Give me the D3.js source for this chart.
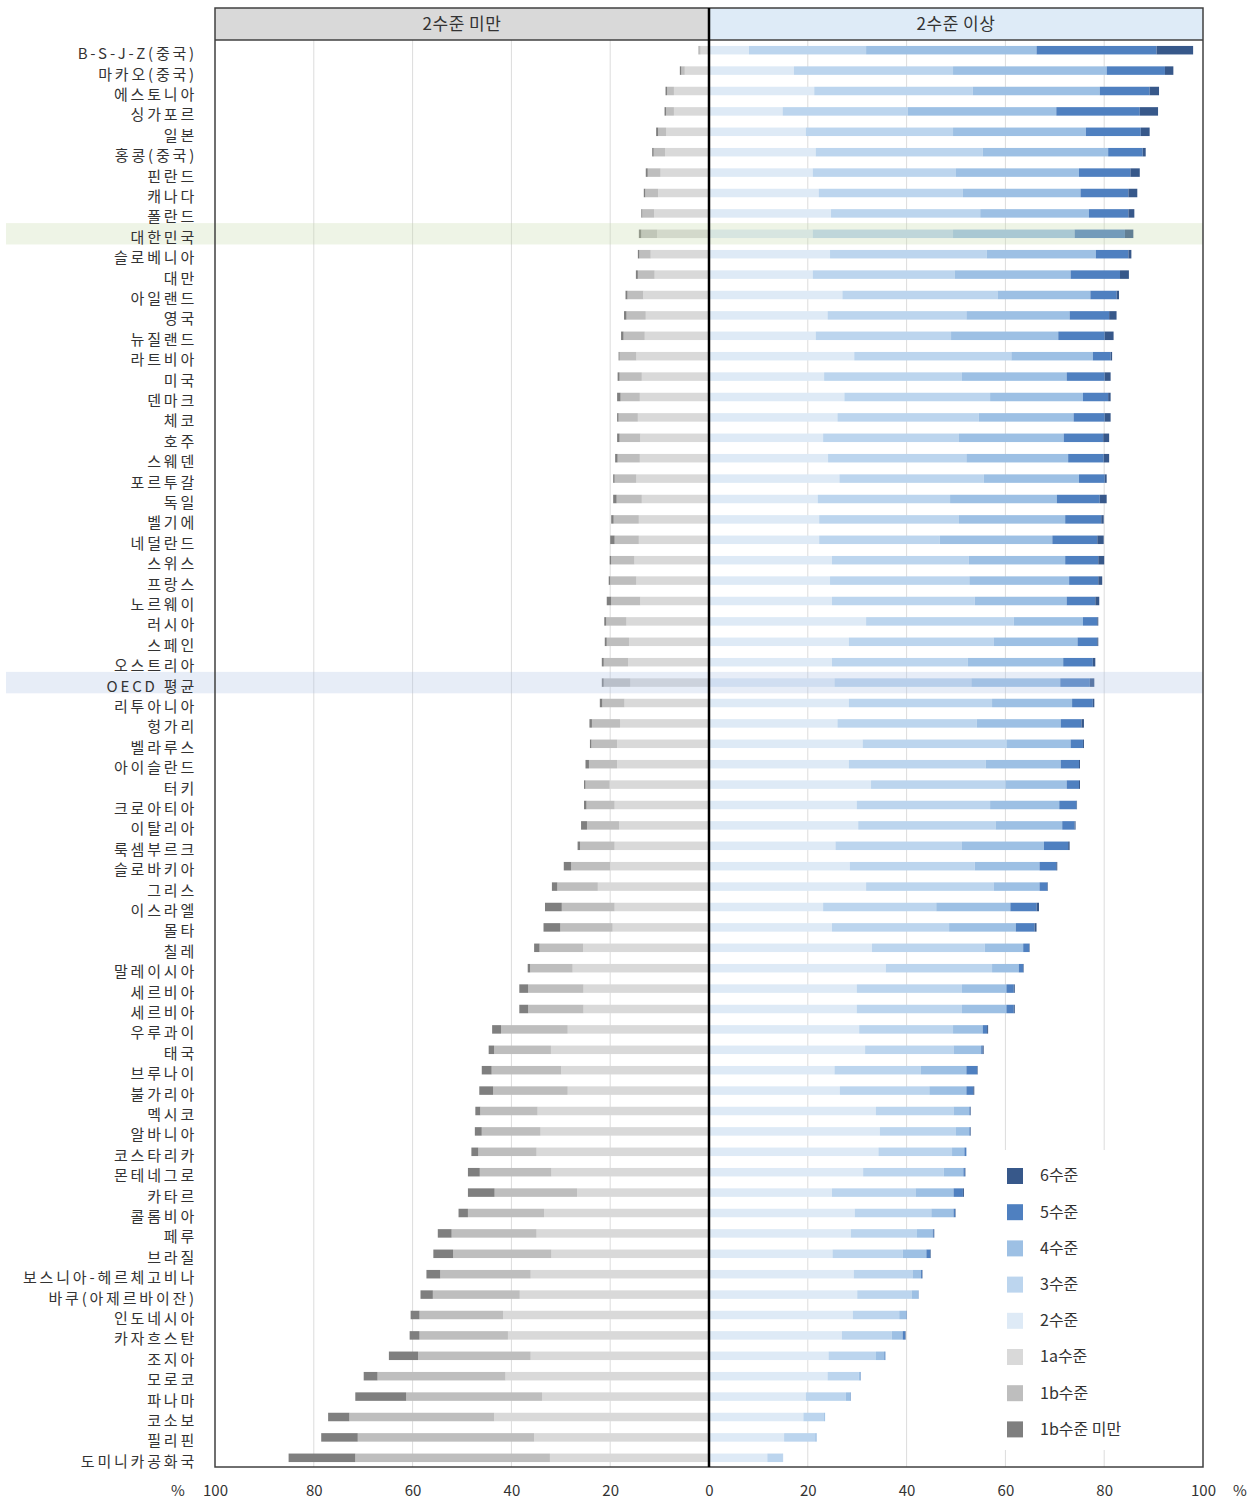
<!DOCTYPE html>
<html>
<head>
<meta charset="utf-8">
<script src="https://cdn.jsdelivr.net/npm/d3@7"></script>
<style>
  body { margin: 0; background: #fff; }
  svg text { font-family: "Noto Sans CJK KR", "Noto Sans", sans-serif; fill: #333; }
</style>
</head>
<body>
<div id="chart"></div>
<script>
// PISA proficiency shares (%)
const countries = ["B-S-J-Z(중국)","마카오(중국)","에스토니아","싱가포르","일본","홍콩(중국)","핀란드","캐나다","폴란드","대한민국",
  "슬로베니아","대만","아일랜드","영국","뉴질랜드","라트비아","미국","덴마크","체코","호주",
  "스웨덴","포르투갈","독일","벨기에","네덜란드","스위스","프랑스","노르웨이","러시아","스페인",
  "오스트리아","OECD 평균","리투아니아","헝가리","벨라루스","아이슬란드","터키","크로아티아","이탈리아","룩셈부르크",
  "슬로바키아","그리스","이스라엘","몰타","칠레","말레이시아","세르비아","세르비아 ","우루과이","태국",
  "브루나이","불가리아","멕시코","알바니아","코스타리카","몬테네그로","카타르","콜롬비아","페루","브라질",
  "보스니아-헤르체고비나","바쿠(아제르바이잔)","인도네시아","카자흐스탄","조지아","모로코","파나마","코소보","필리핀","도미니카공화국"];

const below1b = [0.1,0.3,0.3,0.3,0.4,0.3,0.4,0.3,0.2,0.5, 0.3,0.4,0.4,0.5,0.5,0.2,0.4,0.7,0.3,0.5,
  0.5,0.3,0.7,0.5,0.9,0.3,0.3,0.9,0.4,0.4, 0.4,0.4,0.5,0.5,0.3,0.7,0.3,0.5,1.2,0.5,
  1.5,1.1,3.4,3.4,1.1,0.5,1.8,1.8,1.8,1.1, 2.0,2.8,1.0,1.4,1.4,2.4,5.4,1.9,2.8,4.0,
  2.8,2.5,1.8,2.0,5.9,2.8,10.3,4.3,7.4,13.5];
const level1b = [0.3,0.7,1.4,1.6,1.6,2.3,2.6,2.6,2.4,3.2, 2.3,3.4,3.2,3.9,4.3,3.4,4.5,3.9,3.9,4.2,
  4.5,4.4,5.1,5.1,4.9,4.7,5.3,5.9,4.1,4.5, 4.9,5.4,4.5,5.7,5.2,5.7,4.9,5.7,6.5,7.0,
  7.9,8.2,10.7,10.6,8.8,8.6,11.2,11.2,13.5,11.5, 14.1,15.1,11.6,11.9,11.8,14.5,16.7,15.4,17.2,19.9,
  18.3,17.6,16.9,17.9,22.8,25.9,27.5,29.3,35.7,39.4];
const level1a = [1.7,4.9,7.1,7.1,8.7,8.9,9.8,10.3,11.1,10.5, 11.8,11.0,13.3,12.8,13.0,14.7,13.6,14.0,14.4,13.9,
  14.0,14.7,13.6,14.2,14.2,15.1,14.7,13.9,16.7,16.2, 16.4,15.9,17.1,18.0,18.6,18.6,20.1,19.1,18.2,19.1,
  20.0,22.5,19.1,19.5,25.5,27.6,25.4,25.4,28.6,32.0, 29.9,28.6,34.7,34.1,34.9,31.9,26.7,33.4,34.9,31.9,
  36.1,38.3,41.7,40.7,36.1,41.2,33.8,43.5,35.4,32.2];
const level2 = [8.1,17.2,21.3,14.9,19.6,21.6,21.0,22.2,24.7,21.0, 24.5,21.0,27.0,24.0,21.6,29.4,23.3,27.4,26.0,23.1,
  24.1,26.4,22.0,22.3,22.3,24.9,24.5,24.9,31.8,28.3, 24.9,25.4,28.3,26.0,31.1,28.3,32.8,29.9,30.2,25.6,
  28.5,31.8,23.1,24.9,33.0,35.8,29.9,29.9,30.4,31.6, 25.4,26.5,33.8,34.6,34.3,31.2,24.9,29.5,28.7,25.0,
  29.3,30.0,29.1,26.9,24.2,24.0,19.6,19.1,15.2,11.8];
const level3 = [23.7,32.2,32.1,25.3,29.8,33.8,29.0,29.2,30.2,28.4, 31.7,28.7,31.4,28.1,27.4,31.8,27.9,29.5,28.6,27.5,
  28.0,29.2,26.8,28.3,24.4,27.7,28.2,28.9,29.9,29.3, 27.5,27.7,29.0,28.2,29.1,27.7,27.2,27.0,27.8,25.6,
  25.3,25.8,22.9,23.7,22.8,21.5,21.3,21.3,19.0,17.9, 17.5,18.1,15.7,15.4,14.9,16.3,16.9,15.5,13.4,14.2,
  11.9,11.0,9.4,10.1,9.6,6.3,8.1,4.2,6.3,3.1];
const level4 = [34.5,31.1,25.7,30.1,26.9,25.4,24.9,23.8,22.0,24.6, 22.1,23.5,18.8,20.9,21.7,16.5,21.2,18.8,19.2,21.2,
  20.6,19.3,21.6,21.5,22.8,19.5,20.2,18.6,14.0,17.0, 19.3,18.0,16.2,17.0,13.0,15.2,12.4,14.0,13.5,16.6,
  13.1,9.3,15.0,13.5,7.8,5.4,9.0,9.0,6.0,5.6, 9.2,7.5,3.2,2.7,2.5,4.0,7.7,4.5,3.2,4.8,
  1.7,1.3,1.4,2.2,1.7,0.3,0.9,0.2,0.3,0.1];
const level5 = [24.3,11.8,10.1,16.9,11.1,7.0,10.4,9.7,8.0,10.2, 6.6,10.0,5.3,8.0,9.4,3.6,7.7,5.1,6.3,8.0,
  7.2,5.2,8.7,7.3,9.1,6.7,5.9,5.8,2.9,4.0, 6.0,6.0,4.2,4.2,2.5,3.7,2.5,3.5,2.5,4.9,
  3.4,1.6,5.3,3.8,1.2,0.9,1.5,1.5,0.9,0.3, 2.2,1.4,0.2,0.2,0.4,0.3,1.9,0.3,0.2,0.8,
  0.2,0.1,0.1,0.5,0.2,0.1,0.1,0.0,0.0,0.0];
const level6 = [7.4,1.7,1.9,3.7,1.8,0.6,1.9,1.8,1.2,1.7, 0.6,1.8,0.5,1.5,1.8,0.3,1.2,0.5,1.2,1.2,
  1.1,0.4,1.4,0.5,1.3,1.2,0.8,0.8,0.2,0.2, 0.5,0.9,0.3,0.5,0.2,0.2,0.2,0.1,0.2,0.3,
  0.2,0.1,0.5,0.4,0.1,0.1,0.2,0.2,0.2,0.2, 0.1,0.2,0.1,0.1,0.0,0.1,0.2,0.1,0.1,0.1,
  0.1,0.0,0.0,0.1,0.0,0.0,0.0,0.0,0.0,0.0];

const levelKeys = ["l1a","l1b","lb1b","l2","l3","l4","l5","l6"];
const levelNames = {l6:"6수준", l5:"5수준", l4:"4수준", l3:"3수준", l2:"2수준", l1a:"1a수준", l1b:"1b수준", lb1b:"1b수준 미만"};
const legendOrder = ["l6","l5","l4","l3","l2","l1a","l1b","lb1b"];
const headers = ["2수준 미만", "2수준 이상"];
const tickValues = [-100,-80,-60,-40,-20,0,20,40,60,80,100];
const highlights = {"대한민국": "#c6daac", "OECD 평균": "#afc3e4"};

const colors = {
  l6: "#37588a", l5: "#4f80c0", l4: "#9dc0e4", l3: "#bcd5ee", l2: "#deeaf6",
  l1a: "#d9d9d9", l1b: "#bebebe", lb1b: "#7f7f7f"
};

const width = 1257, height = 1501;
const plotL = 215, plotR = 1203, plotT = 8, headH = 32, plotB = 1467;

const svg = d3.select("#chart").append("svg")
  .attr("width", width).attr("height", height);

const x = d3.scaleLinear().domain([-100, 100]).range([plotL, plotR]);
const y = d3.scaleBand().domain(countries).range([plotT + headH, 1468]);
const barH = 8.5;

// one row object per country, below-level-2 shares as negatives
const rows = countries.map((c, i) => ({
  country: c,
  l1a: -level1a[i], l1b: -level1b[i], lb1b: -below1b[i],
  l2: level2[i], l3: level3[i], l4: level4[i], l5: level5[i], l6: level6[i]
}));

const series = d3.stack().keys(levelKeys).offset(d3.stackOffsetDiverging)(rows);

// header cells
svg.append("rect").attr("x", plotL).attr("y", plotT).attr("width", x(0) - plotL).attr("height", headH)
  .attr("fill", "#d9d9d9");
svg.append("rect").attr("x", x(0)).attr("y", plotT).attr("width", plotR - x(0)).attr("height", headH)
  .attr("fill", "#deebf7");
svg.selectAll(".head").data(headers).join("text")
  .attr("x", (d, i) => i == 0 ? (plotL + x(0)) / 2 : (x(0) + plotR) / 2)
  .attr("y", plotT + headH / 2 + 1)
  .attr("text-anchor", "middle").attr("dominant-baseline", "middle")
  .attr("font-size", 17).attr("letter-spacing", 0.5)
  .text(d => d);

// gridlines
svg.append("g").selectAll("line")
  .data(tickValues.filter(t => t != 0 && Math.abs(t) != 100))
  .join("line")
    .attr("x1", d => x(d)).attr("x2", d => x(d))
    .attr("y1", plotT + headH).attr("y2", plotB)
    .attr("stroke", "#dcdcdc").attr("stroke-width", 1);

// bars
svg.append("g").selectAll("g")
  .data(series)
  .join("g")
    .attr("fill", d => colors[d.key])
  .selectAll("rect")
  .data(d => d)
  .join("rect")
    .attr("x", d => x(Math.min(d[0], d[1])))
    .attr("width", d => Math.abs(x(d[1]) - x(d[0])))
    .attr("y", d => y(d.data.country) + y.bandwidth() / 2 - barH / 2)
    .attr("height", barH);

// highlighted rows (semi transparent over the bars)
svg.append("g").selectAll("rect")
  .data(Object.keys(highlights))
  .join("rect")
    .attr("x", 6).attr("width", plotR - 6)
    .attr("y", d => y(d) - 0.5).attr("height", y.bandwidth() + 1)
    .attr("fill", d => highlights[d]).attr("fill-opacity", 0.3);

// legend box covers the gridlines
const lg = svg.append("g");
lg.append("rect").attr("x", 993).attr("y", 1150).attr("width", 208).attr("height", 300).attr("fill", "#fff");
const item = lg.selectAll("g").data(legendOrder).join("g")
  .attr("transform", (d, i) => `translate(1007, ${1176 + i * 36.2})`);
item.append("rect").attr("x", 0).attr("y", -8).attr("width", 16).attr("height", 16)
  .attr("fill", d => colors[d]);
item.append("text").attr("x", 33).attr("y", 1).attr("dominant-baseline", "middle")
  .attr("font-size", 16).text(d => levelNames[d]);

// frame and center line
svg.append("rect").attr("x", plotL).attr("y", plotT).attr("width", plotR - plotL).attr("height", plotB - plotT)
  .attr("fill", "none").attr("stroke", "#404040").attr("stroke-width", 1.5);
svg.append("line").attr("x1", plotL).attr("x2", plotR).attr("y1", plotT + headH).attr("y2", plotT + headH)
  .attr("stroke", "#404040").attr("stroke-width", 1.5);
svg.append("line").attr("x1", x(0)).attr("x2", x(0)).attr("y1", plotT).attr("y2", plotB)
  .attr("stroke", "#000").attr("stroke-width", 2.5);

// country labels
svg.append("g").selectAll("text")
  .data(countries)
  .join("text")
    .attr("x", 197)
    .attr("y", d => y(d) + y.bandwidth() / 2 + 5)
    .attr("text-anchor", "end").attr("dominant-baseline", "middle")
    .attr("font-size", 15).attr("letter-spacing", 2.8)
    .text(d => d.trim());

// x axis labels
const axis = svg.append("g").attr("transform", `translate(0, ${plotB + 4})`)
  .call(d3.axisBottom(x).tickValues(tickValues).tickFormat(d => Math.abs(d)).tickSize(0).tickPadding(14));
axis.select(".domain").remove();
axis.selectAll("text").attr("font-size", 15).style("fill", "#333")
  .style("font-family", "\"Noto Sans CJK KR\", sans-serif");

svg.append("text").attr("x", 178).attr("y", 1492).attr("text-anchor", "middle")
  .attr("dominant-baseline", "middle").attr("font-size", 15).text("%");
svg.append("text").attr("x", 1240).attr("y", 1492).attr("text-anchor", "middle")
  .attr("dominant-baseline", "middle").attr("font-size", 15).text("%");
</script>
</body>
</html>
